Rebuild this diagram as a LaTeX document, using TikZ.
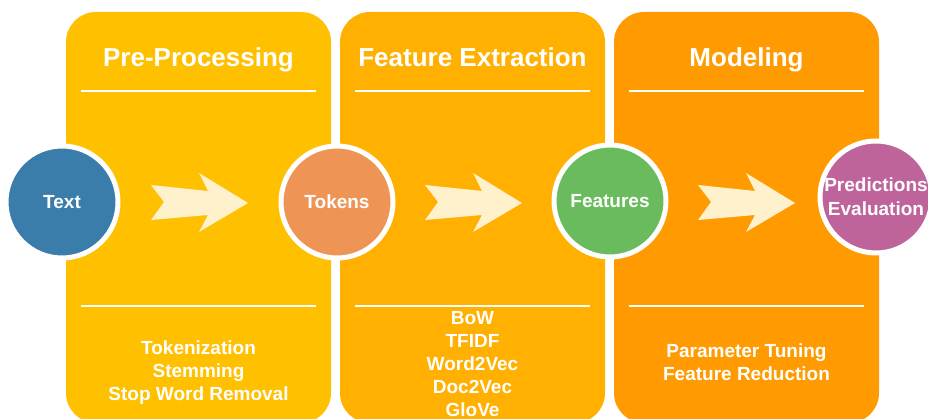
\documentclass[tikz,border=0pt]{standalone}
\usepackage{fontspec}
\setmainfont{Liberation Sans}
\definecolor{panelA}{RGB}{255,192,0}
\definecolor{panelB}{RGB}{255,176,0}
\definecolor{panelC}{RGB}{255,155,0}
\definecolor{arrowfill}{RGB}{255,241,204}
\definecolor{cblue}{RGB}{58,125,170}
\definecolor{corange}{RGB}{238,149,85}
\definecolor{cgreen}{RGB}{106,187,94}
\definecolor{cpurple}{RGB}{190,100,154}
\tikzset{
  panel/.style={rounded corners=30pt},
  rule/.style={draw=white, line width=1.6pt},
  title/.style={text=white, font=\bfseries\fontsize{26}{30}\selectfont, inner sep=0pt, anchor=base},
  items/.style={text=white, font=\bfseries\fontsize{19}{23}\selectfont, align=center, inner sep=0pt},
  stage/.style={circle, draw=white, line width=5pt, minimum size=112pt, inner sep=0pt,
    text=white, font=\bfseries\fontsize{19}{24}\selectfont, align=center},
  bigarrow/.pic={
    \fill[arrowfill] (0,0) -- (57,6) -- (48,-12) -- (97,18) -- (48,47) -- (57,30)
      -- (0,35) -- (13,17) -- cycle;
  }
}
\begin{document}
\begin{tikzpicture}[x=1pt, y=-1pt]
\useasboundingbox (0,0) rectangle (928,419);
\clip (0,0) rectangle (928,419);
\fill[white] (0,0) rectangle (928,419);

% three stage panels
\fill[panelA, panel] (66,12) rectangle (331,423);
\fill[panelB, panel] (340,12) rectangle (605,423);
\fill[panelC, panel] (614,12) rectangle (879,423);

% titles and rules
\node[title] (t1) at (198.5,67) {Pre-Processing};
\node[title] (t2) at (472.5,67) {Feature Extraction};
\node[title] (t3) at (746.5,67) {Modeling};

\foreach \xa/\xb in {81/316, 355/590, 629/864}{
  \draw[rule] (\xa,91) -- (\xb,91);
  \draw[rule] (\xa,306) -- (\xb,306);
}

% method lists
\node[items] (l1) at (198.5,373) {Tokenization\\Stemming\\Stop Word Removal};
\node[items] (l2) at (472.5,364.5) {BoW\\TFIDF\\Word2Vec\\Doc2Vec\\GloVe};
\node[items] (l3) at (746.5,362) {Parameter Tuning\\Feature Reduction};

% arrows between stages
\pic at (151,185) {bigarrow};
\pic at (425,185) {bigarrow};
\pic at (698,185) {bigarrow};

% data stages
\node[stage, fill=cblue] (text) at (62,202) {Text};
\node[stage, fill=corange] (tokens) at (337,202) {Tokens};
\node[stage, fill=cgreen] (features) at (610,201) {Features};
\node[stage, fill=cpurple] (pred) at (876,197) {Predictions\\Evaluation};
\end{tikzpicture}
\end{document}
